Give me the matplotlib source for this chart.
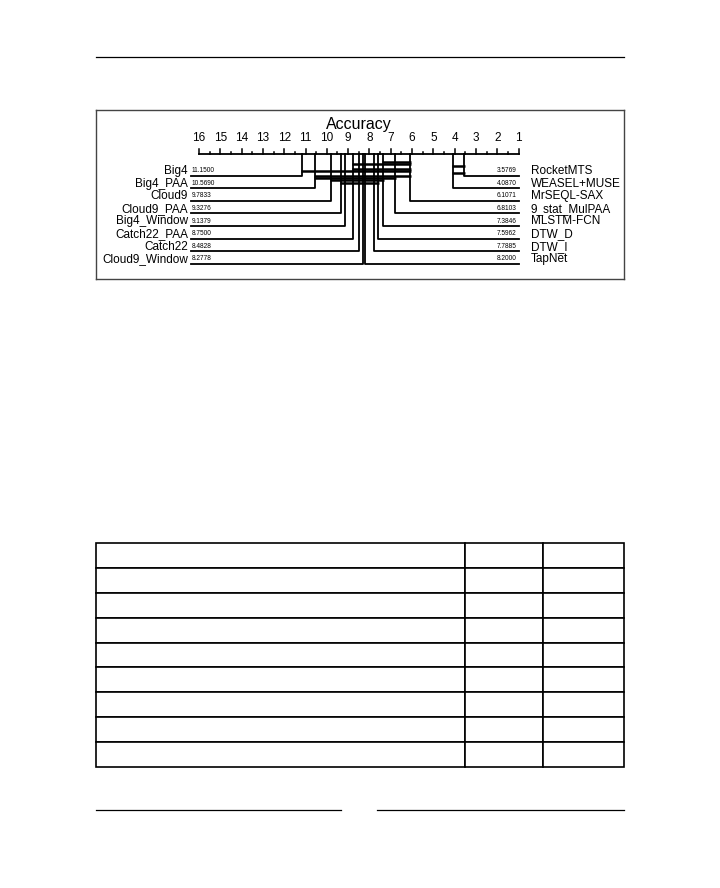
import numpy as np
import matplotlib.pyplot as plt

plt.rcParams['font.family'] = ['Liberation Sans', 'DejaVu Sans']

# average ranks (lower is better)
left_names = ['Big4', 'Big4_PAA', 'Cloud9', 'Cloud9_PAA', 'Big4_Window',
              'Catch22_PAA', 'Catch22', 'Cloud9_Window']
left_ranks = [11.1500, 10.5690, 9.7833, 9.3276, 9.1379, 8.7500, 8.4828, 8.2778]
right_names = ['RocketMTS', 'WEASEL+MUSE', 'MrSEQL-SAX', '9_stat_MulPAA',
               'MLSTM-FCN', 'DTW_D', 'DTW_I', 'TapNet']
right_ranks = [3.5769, 4.0870, 6.1071, 6.8103, 7.3846, 7.5962, 7.7885, 8.2000]

# groups with no significant difference: best and worst rank of each
clique_low = [6.1071, 6.1071, 3.5769, 6.1071, 6.1071, 3.5769, 6.1071, 6.8103, 7.3846, 7.5962]
clique_high = [7.3846, 8.7500, 4.0870, 8.7500, 11.1500, 4.0870, 10.5690, 10.5690, 9.7833, 9.3276]

n_tables_rows = 9
table_col_widths = [369, 78, 81]

W, H = 720, 888
fig = plt.figure(figsize=(W / 100, H / 100), dpi=100)

# page decoration (header / footer rules)
bg = fig.add_axes([0, 0, 1, 1])
bg.set_xlim(0, W)
bg.set_ylim(H, 0)
bg.axis('off')
bg.plot([96, 624], [57, 57], color='black', lw=0.9)
bg.plot([96, 341], [810, 810], color='black', lw=0.9)
bg.plot([377, 624], [810, 810], color='black', lw=0.9)

# critical difference diagram
px_per_rank = 21.3
x16 = 199
ax = fig.add_axes([96 / W, 1 - 279 / H, 528 / W, 169 / H])
ax.set_xlim(16 + (x16 - 96) / px_per_rank, 16 - (624 - x16) / px_per_rank)
ax.set_ylim(279, 110)
ax.set_xticks([])
ax.set_yticks([])
for s in ax.spines.values():
    s.set_color('#444444')
    s.set_linewidth(1.0)

px = 1 / px_per_rank
axis_y = 154
ax.plot([16, 1], [axis_y, axis_y], color='black', lw=1.3)
for r in np.arange(1, 16.5, 0.5):
    tl = 5 if r == int(r) else 2.5
    ax.plot([r, r], [axis_y, axis_y - tl], color='black', lw=1.1)
for r in range(1, 17):
    ax.text(r, 137.5, str(r), ha='center', va='center', fontsize=8.5)
ax.text(8.5, 124, 'Accuracy', ha='center', va='center', fontsize=11.5)

row0, row_step = 175.5, 12.6
left_end = 16 + 8 * px
right_end = 1 - 0.5 * px
for i, (name, r) in enumerate(zip(left_names, left_ranks)):
    y = row0 + i * row_step
    ax.plot([r, r, left_end], [axis_y, y, y], color='black', lw=1.3)
    ax.text(16 + 11 * px, y - 4.5, name, ha='right', va='center', fontsize=8.5)
    ax.text(16 + 7 * px, y - 1.3, f'{r:.4f}', ha='left', va='bottom', fontsize=4.7)
for i, (name, r) in enumerate(zip(right_names, right_ranks)):
    y = row0 + i * row_step
    ax.plot([r, r, right_end], [axis_y, y, y], color='black', lw=1.3)
    ax.text(1 - 12 * px, y - 4.5, name, ha='left', va='center', fontsize=8.5)
    ax.text(1 + 2 * px, y - 1.3, f'{r:.4f}', ha='right', va='bottom', fontsize=4.7)

for k, (lo, hi) in enumerate(zip(clique_low, clique_high)):
    y = 161.5 + k * 2.35
    ax.plot([hi + px, lo - px], [y, y], color='black', lw=1.8, solid_capstyle='butt')

# empty results table
tax = fig.add_axes([96 / W, 1 - 767 / H, 528 / W, 224 / H])
tax.axis('off')
cw = np.array(table_col_widths) / sum(table_col_widths)
tbl = tax.table(cellText=[[''] * 3 for _ in range(n_tables_rows)],
                colWidths=list(cw), bbox=[0, 0, 1, 1])
for cell in tbl.get_celld().values():
    cell.set_linewidth(1.2)
    cell.set_edgecolor('black')

fig.savefig('out.png', dpi=100)
